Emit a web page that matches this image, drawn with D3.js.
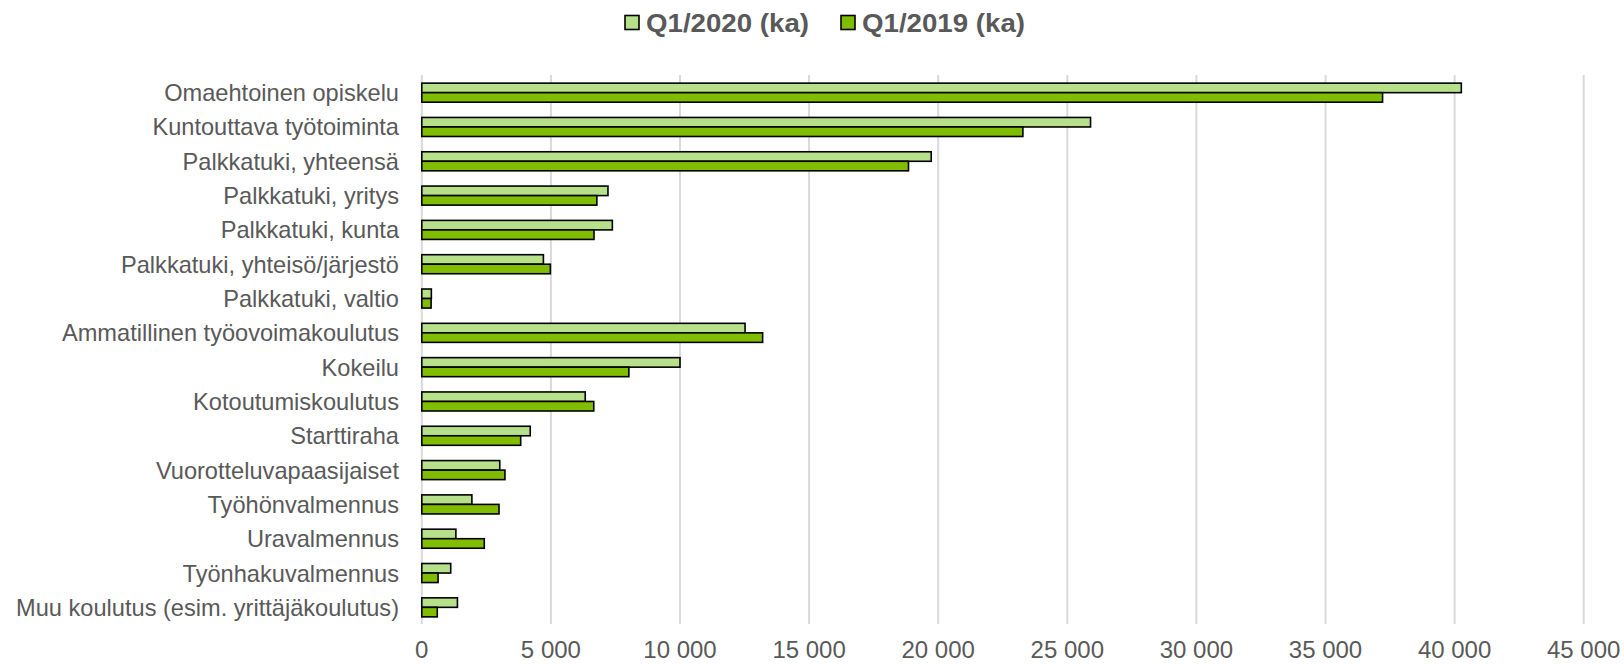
<!DOCTYPE html>
<html>
<head>
<meta charset="utf-8">
<script src="https://cdn.jsdelivr.net/npm/d3@7/dist/d3.min.js"></script>
<style>
  html, body { margin: 0; padding: 0; background: #ffffff; }
  svg { display: block; font-family: "Liberation Sans", Arial, sans-serif; }
</style>
</head>
<body>
<svg id="chart" width="1624" height="664"></svg>
<script>
const categories = [
  "Omaehtoinen opiskelu",
  "Kuntouttava työtoiminta",
  "Palkkatuki, yhteensä",
  "Palkkatuki, yritys",
  "Palkkatuki, kunta",
  "Palkkatuki, yhteisö/järjestö",
  "Palkkatuki, valtio",
  "Ammatillinen työovoimakoulutus",
  "Kokeilu",
  "Kotoutumiskoulutus",
  "Starttiraha",
  "Vuorotteluvapaasijaiset",
  "Työhönvalmennus",
  "Uravalmennus",
  "Työnhakuvalmennus",
  "Muu koulutus (esim. yrittäjäkoulutus)"
];
const seriesNames = ["Q1/2020 (ka)", "Q1/2019 (ka)"];
const q2020 = [40260, 25900, 19730, 7210, 7380, 4710, 370, 12520, 10000, 6330, 4200, 3020, 1940, 1320, 1120, 1380];
const q2019 = [37210, 23280, 18850, 6780, 6670, 4980, 360, 13200, 8020, 6660, 3830, 3220, 2990, 2420, 630, 600];
const xTicks = [0, 5000, 10000, 15000, 20000, 25000, 30000, 35000, 40000, 45000];

const colors = ["#b6e08a", "#80bc00"];
const textColor = "#595959";

const svg = d3.select("#chart");
const plotLeft = 421.8, plotRight = 1583.7, plotTop = 75.5, plotBottom = 624.5;

const x = d3.scaleLinear().domain([0, 45000]).range([plotLeft, plotRight]);
const y = d3.scaleBand().domain(categories).range([plotTop, plotBottom]).paddingInner(0.445).paddingOuter(0.2225);
const ys = d3.scaleBand().domain(seriesNames).range([0, y.bandwidth()]);

// gridlines
svg.append("g").selectAll("line").data(xTicks).join("line")
  .attr("x1", d => x(d)).attr("x2", d => x(d))
  .attr("y1", 75).attr("y2", 624)
  .attr("stroke", "#d9d9d9").attr("stroke-width", 2);

// x tick labels
const fmt = d => d3.format(",")(d).replace(/,/g, "\u00a0");
svg.append("g").selectAll("text").data(xTicks).join("text")
  .attr("x", d => x(d)).attr("y", 658)
  .attr("text-anchor", "middle")
  .attr("font-size", 24)
  .attr("fill", textColor)
  .text(fmt);

// category labels
svg.append("g").selectAll("text").data(categories).join("text")
  .attr("x", 399)
  .attr("y", d => y(d) + y.bandwidth() / 2)
  .attr("dy", "0.36em")
  .attr("text-anchor", "end")
  .attr("font-size", 23.6)
  .attr("fill", textColor)
  .text(d => d);

// bars
const series = [q2020, q2019];
series.forEach((vals, si) => {
  svg.append("g").selectAll("rect").data(vals).join("rect")
    .attr("x", x(0))
    .attr("y", (d, i) => y(categories[i]) + ys(seriesNames[si]))
    .attr("width", d => x(d) - x(0))
    .attr("height", ys.bandwidth())
    .attr("fill", colors[si])
    .attr("stroke", "#000")
    .attr("stroke-width", 1.6);
});

// legend
const legendX = [625, 841];
const lg = svg.append("g");
seriesNames.forEach((name, i) => {
  lg.append("rect")
    .attr("x", legendX[i]).attr("y", 15.5)
    .attr("width", 14).attr("height", 14)
    .attr("fill", colors[i]).attr("stroke", "#000").attr("stroke-width", 1.6);
  lg.append("text")
    .attr("x", legendX[i] + 21).attr("y", 31.5)
    .attr("font-size", 25).attr("font-weight", "bold")
    .attr("fill", textColor)
    .attr("textLength", 163).attr("lengthAdjust", "spacingAndGlyphs")
    .text(name);
});
</script>
</body>
</html>
